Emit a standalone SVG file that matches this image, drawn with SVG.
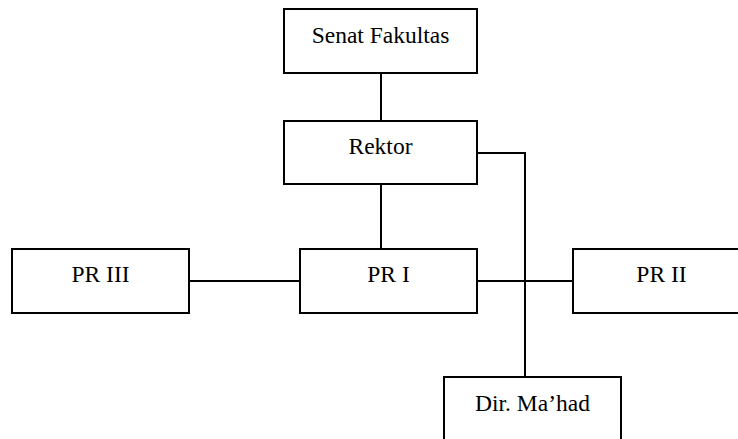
<svg xmlns="http://www.w3.org/2000/svg" width="738" height="439" viewBox="0 0 738 439">
<style>
.box{fill:#fff;stroke:#000;stroke-width:2}
.lbl{font-family:"Liberation Serif","Times New Roman",serif;font-size:23.5px;fill:#000;text-anchor:middle}
.ln{stroke:#000;stroke-width:2;fill:none}
</style>
<rect width="738" height="439" fill="#fff"/>
<g id="connectors">
<line class="ln" x1="381" y1="73" x2="381" y2="121"/>
<line class="ln" x1="381" y1="184" x2="381" y2="249"/>
<line class="ln" x1="189" y1="281" x2="300" y2="281"/>
<line class="ln" x1="477" y1="281" x2="573" y2="281"/>
<polyline class="ln" points="477,153 525,153 525,377"/>
</g>
<g id="senat"><rect class="box" x="284" y="9" width="193" height="64"/><text class="lbl" x="380.5" y="43">Senat Fakultas</text></g>
<g id="rektor"><rect class="box" x="284" y="121" width="193" height="63"/><text class="lbl" x="380.5" y="154">Rektor</text></g>
<g id="pr3"><rect class="box" x="12" y="249" width="177" height="64"/><text class="lbl" x="100.5" y="282">PR III</text></g>
<g id="pr1"><rect class="box" x="300" y="249" width="177" height="64"/><text class="lbl" x="388.5" y="282">PR I</text></g>
<g id="pr2"><rect class="box" x="573" y="249" width="177" height="64"/><text class="lbl" x="661.5" y="282">PR II</text></g>
<g id="dirmahad"><rect class="box" x="444" y="377" width="177" height="64"/><text class="lbl" x="532.5" y="411">Dir. Ma’had</text></g>
</svg>
